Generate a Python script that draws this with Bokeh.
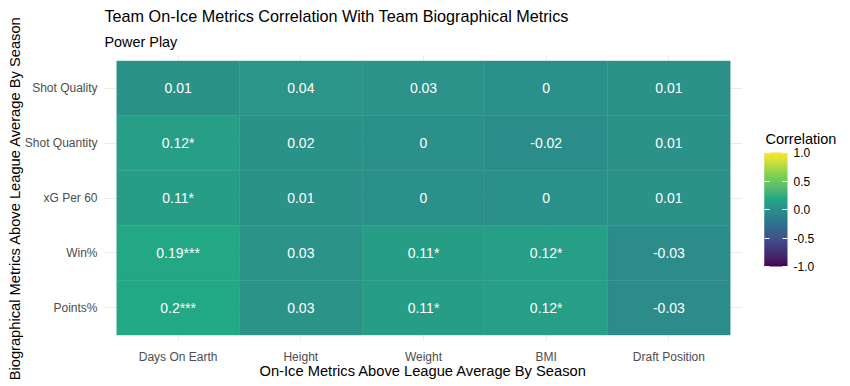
import numpy as np
from bokeh.plotting import figure
from bokeh.models import (ColumnDataSource, FactorRange, LinearColorMapper, ColorBar,
                          FixedTicker, PrintfTickFormatter, Title)
from bokeh.transform import transform
from bokeh.embed import file_html
from bokeh.core.properties import value
from bokeh.resources import INLINE

# ---------------- data ----------------
x_cats = ["Days On Earth", "Height", "Weight", "BMI", "Draft Position"]
y_cats = ["Shot Quality", "Shot Quantity", "xG Per 60", "Win%", "Points%"]  # top -> bottom

shot_quality = [0.01, 0.04, 0.03, 0.00, 0.01]
shot_quantity = [0.12, 0.02, 0.00, -0.02, 0.01]
xg_per_60 = [0.11, 0.01, 0.00, 0.00, 0.01]
win_pct = [0.19, 0.03, 0.11, 0.12, -0.03]
points_pct = [0.20, 0.03, 0.11, 0.12, -0.03]

shot_quality_lbl = ["0.01", "0.04", "0.03", "0", "0.01"]
shot_quantity_lbl = ["0.12*", "0.02", "0", "-0.02", "0.01"]
xg_per_60_lbl = ["0.11*", "0.01", "0", "0", "0.01"]
win_pct_lbl = ["0.19***", "0.03", "0.11*", "0.12*", "-0.03"]
points_pct_lbl = ["0.2***", "0.03", "0.11*", "0.12*", "-0.03"]

legend_ticks = [-1.0, -0.5, 0.0, 0.5, 1.0]

rows_vals = [shot_quality, shot_quantity, xg_per_60, win_pct, points_pct]
rows_lbls = [shot_quality_lbl, shot_quantity_lbl, xg_per_60_lbl, win_pct_lbl, points_pct_lbl]

xs, ys, vs, ls = [], [], [], []
for yc, vals, lbls in zip(y_cats, rows_vals, rows_lbls):
    for xc, v, l in zip(x_cats, vals, lbls):
        xs.append(xc); ys.append(yc); vs.append(v); ls.append(l)
src = ColumnDataSource(dict(x=xs, y=ys, v=vs, lbl=ls))

# ---------------- viridis gradient interpolated in Lab (like ggplot) ----------------
anchors = ["#440154", "#414487", "#2A788E", "#22A884", "#7AD151", "#FDE725"]
M = np.array([[0.4124564, 0.3575761, 0.1804375],
              [0.2126729, 0.7151522, 0.0721750],
              [0.0193339, 0.1191920, 0.9503041]])
WHITE = np.array([0.95047, 1.0, 1.08883])


def hex2lab(h):
    c = np.array([int(h[i:i + 2], 16) for i in (1, 3, 5)]) / 255.0
    lin = np.where(c <= 0.04045, c / 12.92, ((c + 0.055) / 1.055) ** 2.4)
    xyz = M @ lin / WHITE
    d = 6 / 29
    f = np.where(xyz > d ** 3, np.cbrt(xyz), xyz / (3 * d * d) + 4 / 29)
    return np.array([116 * f[1] - 16, 500 * (f[0] - f[1]), 200 * (f[1] - f[2])])


def lab2hex(lab):
    L, a, b = lab
    fy = (L + 16) / 116
    fx = fy + a / 500
    fz = fy - b / 200
    d = 6 / 29
    f = np.array([fx, fy, fz])
    xyz = np.where(f > d, f ** 3, 3 * d * d * (f - 4 / 29)) * WHITE
    lin = np.clip(np.linalg.solve(M, xyz), 0, 1)
    c = np.where(lin <= 0.0031308, 12.92 * lin, 1.055 * lin ** (1 / 2.4) - 0.055)
    c = np.clip(np.round(c * 255), 0, 255).astype(int)
    return "#%02x%02x%02x" % tuple(c)


labs = [hex2lab(h) for h in anchors]
palette = []
n = 256
for i in range(n):
    t = i / (n - 1) * (len(anchors) - 1)
    k = min(int(t), len(anchors) - 2)
    u = t - k
    palette.append(lab2hex(labs[k] * (1 - u) + labs[k + 1] * u))

mapper = LinearColorMapper(palette=palette, low=-1, high=1)

FONT = "Liberation Sans"

p = figure(width=850, height=386,
           x_range=FactorRange(factors=x_cats, range_padding=0.1, range_padding_units="absolute"),
           y_range=FactorRange(factors=list(reversed(y_cats)), range_padding=0.1,
                               range_padding_units="absolute"),
           output_backend="svg", toolbar_location=None, title=None,
           min_border_left=104, min_border_right=108, min_border_top=55, min_border_bottom=46)
p.background_fill_color = "white"
p.border_fill_color = "white"
p.outline_line_color = None

p.rect(x="x", y="y", width=1, height=1, source=src,
       fill_color=transform("v", mapper), line_color=transform("v", mapper), line_width=0.4)
p.text(x="x", y="y", text="lbl", source=src, text_color="white",
       text_font=value(FONT), text_font_size=value("14px"),
       text_align="center", text_baseline="middle")

for g in (p.xgrid, p.ygrid):
    g.grid_line_color = "#EBEBEB"
    g.grid_line_width = 1

for ax in (p.xaxis, p.yaxis):
    ax.axis_line_color = None
    ax.major_tick_line_color = None
    ax.minor_tick_line_color = None
    ax.major_tick_in = 0
    ax.major_tick_out = 0
    ax.major_label_text_font = FONT
    ax.major_label_text_font_size = "12px"
    ax.major_label_text_color = "#4D4D4D"
    ax.axis_label_text_font = FONT
    ax.axis_label_text_font_size = "14.7px"
    ax.axis_label_text_font_style = "normal"
    ax.axis_label_text_color = "black"

p.yaxis.major_label_standoff = 7
p.yaxis.axis_label = "Biographical Metrics Above League Average By Season"
p.yaxis.axis_label_standoff = -1

p.xaxis.major_label_standoff = 9
p.xaxis.axis_label = "On-Ice Metrics Above League Average By Season"
p.xaxis.axis_label_standoff = -4

# titles (first added = closest to the plot)
p.add_layout(Title(text="Power Play", text_font=FONT, text_font_size="14.4px",
                   text_font_style="normal", text_color="black", align="left",
                   offset=0, standoff=11), "above")
p.add_layout(Title(text="Team On-Ice Metrics Correlation With Team Biographical Metrics",
                   text_font=FONT, text_font_size="16.2px", text_font_style="normal",
                   text_color="black", align="left", offset=0, standoff=4), "above")

cb = ColorBar(color_mapper=mapper, location=(660, 74), width=23, height=114, padding=0,
              title=None,
              ticker=FixedTicker(ticks=legend_ticks),
              formatter=PrintfTickFormatter(format="%.1f"),
              major_label_text_font=FONT, major_label_text_font_size="12px",
              major_label_text_color="black", label_standoff=6,
              major_tick_line_color="white", major_tick_in=5, major_tick_out=0,
              minor_tick_line_color=None, bar_line_color=None,
              border_line_color=None, background_fill_color=None)
p.add_layout(cb, "center")

# left-hand white ticks of the colour bar: a narrow copy of the bar drawn over its left edge
cb_left = ColorBar(color_mapper=mapper, location=(660, 74), width=5, height=114, padding=0,
                   title=None, ticker=FixedTicker(ticks=legend_ticks),
                   formatter=PrintfTickFormatter(format="%.1f"),
                   major_label_text_alpha=0, major_label_text_font_size="12px",
                   label_standoff=6,
                   major_tick_line_color="white", major_tick_in=5, major_tick_out=0,
                   minor_tick_line_color=None, bar_line_color=None,
                   border_line_color=None, background_fill_color=None)
p.add_layout(cb_left, "center")

# legend title "Correlation": a flat, invisible horizontal bar that only carries the title
title_mapper = LinearColorMapper(palette=["#ffffff"], low=0, high=1)
cb_title = ColorBar(color_mapper=title_mapper, orientation="horizontal", location=(661, 193),
                    width=70, height=1, padding=0, title="Correlation",
                    title_text_font=FONT, title_text_font_size="14.5px",
                    title_text_font_style="normal", title_text_color="black", title_standoff=0,
                    ticker=FixedTicker(ticks=[]), major_label_text_alpha=0,
                    major_tick_line_color=None, minor_tick_line_color=None,
                    bar_line_color=None, border_line_color=None, background_fill_color=None,
                    scale_alpha=0)
p.add_layout(cb_title, "center")

open("out.html", "w").write(file_html(p, INLINE))
